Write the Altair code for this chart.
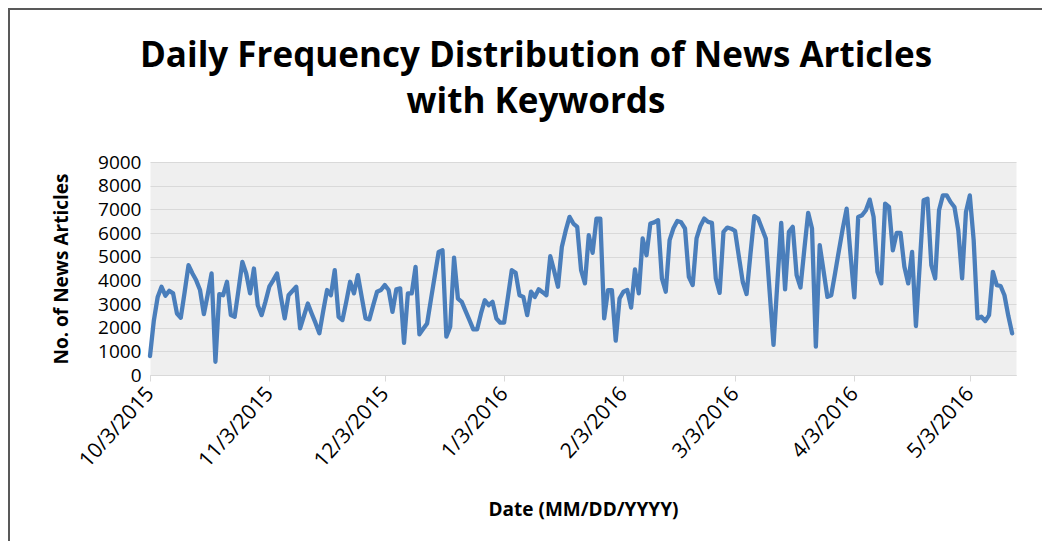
import altair as alt
import pandas as pd

# ---------------- data ----------------
START_DATE = "2015-10-03"
articles = [
    800, 2300, 3300, 3730, 3350, 3560, 3450, 2600, 2420, 3500,
    4640, 4300, 4000, 3590, 2570, 3400, 4290, 560, 3420, 3370,
    3940, 2530, 2460, 3600, 4780, 4290, 3450, 4500, 2950, 2530,
    3100, 3730, 4000, 4290, 3300, 2390, 3370, 3550, 3730, 1970,
    2500, 3020, 2600, 2200, 1760, 2700, 3590, 3370, 4430, 2460,
    2320, 3100, 3940, 3450, 4220, 3300, 2390, 2350, 2950, 3520,
    3590, 3800, 3590, 2670, 3620, 3660, 1360, 3450, 3450, 4570,
    1720, 1950, 2180, 3200, 4200, 5200, 5270, 1620, 2040, 4960,
    3230, 3090, 2700, 2320, 1930, 1930, 2600, 3160, 2950, 3090,
    2390, 2210, 2210, 3300, 4430, 4320, 3370, 3300, 2530, 3520,
    3300, 3620, 3500, 3370, 5020, 4400, 3730, 5410, 6100, 6680,
    6400, 6260, 4430, 3870, 5910, 5160, 6610, 6610, 2390, 3590,
    3590, 1450, 3230, 3520, 3590, 2850, 4460, 3450, 5770, 5060,
    6400, 6450, 6540, 4080, 3520, 5700, 6200, 6510, 6450, 6190,
    4150, 3800, 5770, 6300, 6610, 6470, 6430, 4080, 3470, 6050,
    6230, 6180, 6090, 5000, 3940, 3420, 5100, 6710, 6610, 6190,
    5770, 3500, 1270, 3900, 6430, 3620, 6050, 6260, 4220, 3700,
    5300, 6850, 6190, 1200, 5490, 4400, 3300, 3370, 4300, 5270,
    6200, 7030, 5100, 3280, 6680, 6750, 6960, 7410, 6680, 4360,
    3870, 7240, 7100, 5270, 6000, 6000, 4570, 3870, 5200, 2070,
    4700, 7380, 7450, 4640, 4080, 6960, 7590, 7590, 7310, 7100,
    6120, 4080, 6890, 7590, 5700, 2390, 2460, 2280, 2530, 4360,
    3800, 3760, 3370, 2500, 1760,
]
tick_dates = ["2015-10-03", "2015-11-03", "2015-12-03", "2016-01-03",
              "2016-02-03", "2016-03-03", "2016-04-03", "2016-05-03"]
x_domain = ["2015-10-03", "2016-05-15"]
y_ticks = [0, 1000, 2000, 3000, 4000, 5000, 6000, 7000, 8000, 9000]
title_lines = ["Daily Frequency Distribution of News Articles", "with Keywords"]
x_title = "Date (MM/DD/YYYY)"
y_title = "No. of News Articles"

# ---------------- build ----------------
dates = pd.date_range(START_DATE, periods=len(articles), freq="D").strftime("%Y-%m-%d")
df = pd.DataFrame({"date": list(dates), "articles": articles})


def dt(s):
    return alt.DateTime(year=int(s[:4]), month=int(s[5:7]), date=int(s[8:]), utc=True)


FONT = "Open Sans"
GRID = "#d9d9d9"
W, H = 866, 213

line = alt.Chart(df).mark_line(
    color="#4A7EBB", strokeWidth=4.3, strokeCap="round", strokeJoin="round"
).encode(
    x=alt.X(
        "date:T",
        scale=alt.Scale(type="utc", domain=[dt(x_domain[0]), dt(x_domain[1])], nice=False),
        axis=alt.Axis(
            values=[dt(d) for d in tick_dates],
            labelExpr="utcFormat(datum.value, '%-m/%-d/%Y')",
            labelAngle=-48, labelAlign="right", labelBaseline="middle",
            labelFont=FONT, labelFontSize=21, labelColor="black",
            labelPadding=9, labelFlush=False, labelOverlap=False,
            tickSize=6, tickColor=GRID, domainColor=GRID, domainWidth=1,
            grid=False,
            title=x_title, titleFont=FONT, titleFontSize=19, titleFontWeight="bold",
            titleColor="black", titleX=W / 2, titleY=140, titleBaseline="alphabetic",
            titleAlign="center",
        ),
    ),
    y=alt.Y(
        "articles:Q",
        scale=alt.Scale(domain=[0, 9000], nice=False),
        axis=alt.Axis(
            values=y_ticks, format="d",
            labelFont=FONT, labelFontSize=19, labelColor="black", labelPadding=9,
            ticks=False, domain=False, grid=True, gridColor=GRID, gridWidth=1,
            title=y_title, titleFont=FONT, titleFontSize=19, titleFontWeight="bold",
            titleColor="black", titleAngle=270, titleX=-83, titleY=H / 2,
            titleBaseline="alphabetic", titleAlign="center",
        ),
    ),
)

one = pd.DataFrame({"k": [0]})
left_border = alt.Chart(one).mark_rule(color="#595959", strokeWidth=2).encode(
    x=alt.value(-141), y=alt.value(-154), y2=alt.value(H + 170)
)
top_border = alt.Chart(one).mark_rule(color="#595959", strokeWidth=2).encode(
    y=alt.value(-153), x=alt.value(-142), x2=alt.value(W + 40)
)

TITLE_X = W / 2 - 47
title1 = alt.Chart(one).mark_text(
    font=FONT, fontSize=35, fontWeight="bold", color="black",
    align="center", baseline="alphabetic",
).encode(x=alt.value(TITLE_X), y=alt.value(-95), text=alt.value(title_lines[0]))
title2 = alt.Chart(one).mark_text(
    font=FONT, fontSize=35, fontWeight="bold", color="black",
    align="center", baseline="alphabetic",
).encode(x=alt.value(TITLE_X), y=alt.value(-49), text=alt.value(title_lines[1]))

chart = alt.layer(line, left_border, top_border, title1, title2).properties(
    width=W, height=H,
    padding={"left": 142, "top": 154, "right": 26, "bottom": 166},
    autosize=alt.AutoSizeParams(type="none"),
).configure(
    background="white",
    view=alt.ViewConfig(fill="#efefef", stroke="transparent"),
)

chart.save("out.html", embed_options={"renderer": "svg", "actions": False})
